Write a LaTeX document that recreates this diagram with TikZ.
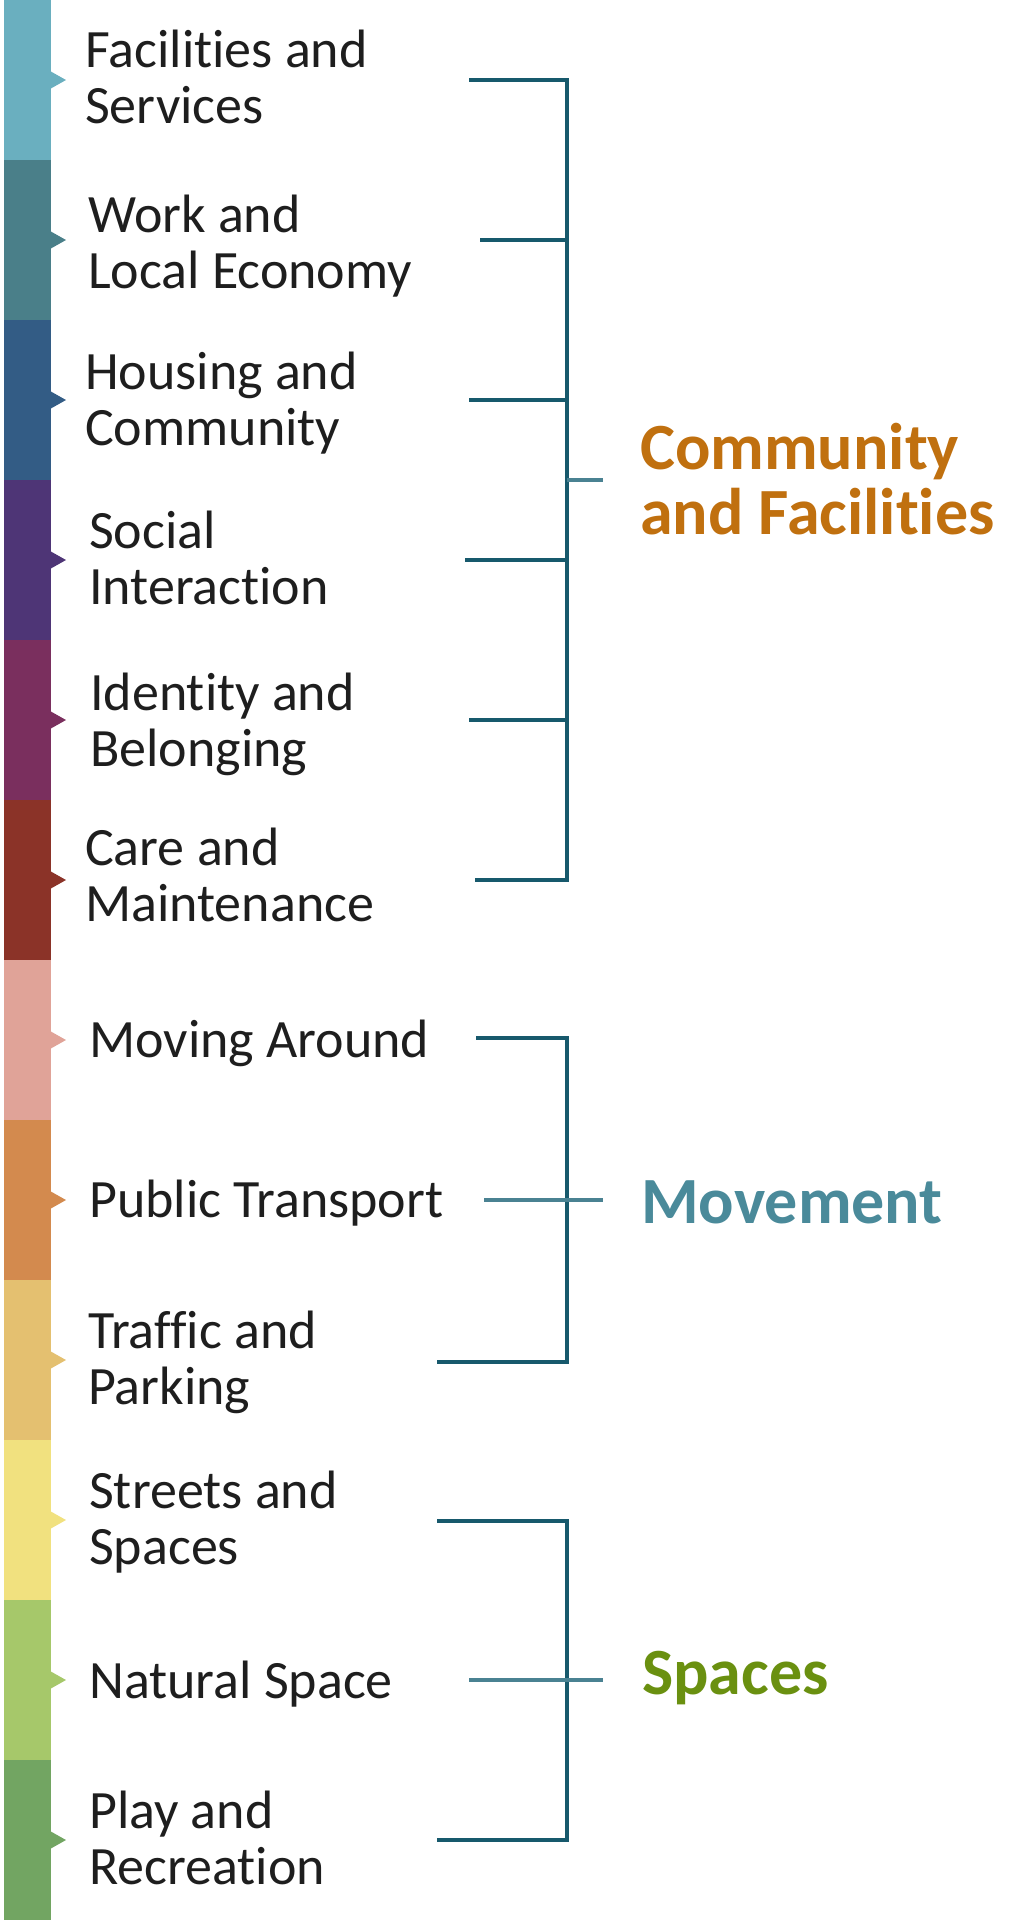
\documentclass[tikz,border=0pt]{standalone}
\usepackage{fontspec}
\setmainfont{Carlito}[RawFeature={-liga;-clig;-calt;-dlig}]
\definecolor{c1}{HTML}{6AAFBF}
\definecolor{c2}{HTML}{4A7F89}
\definecolor{c3}{HTML}{335C85}
\definecolor{c4}{HTML}{4E3576}
\definecolor{c5}{HTML}{7A2F5E}
\definecolor{c6}{HTML}{8B3328}
\definecolor{c7}{HTML}{E0A398}
\definecolor{c8}{HTML}{D38A4E}
\definecolor{c9}{HTML}{E4C070}
\definecolor{c10}{HTML}{F1E17F}
\definecolor{c11}{HTML}{A6C86A}
\definecolor{c12}{HTML}{72A562}
\definecolor{labelc}{HTML}{1E1E1E}
\definecolor{brkc}{HTML}{17596C}
\definecolor{stubc}{HTML}{4A8292}
\definecolor{headA}{HTML}{C0700F}
\definecolor{headB}{HTML}{4A8A9A}
\definecolor{headC}{HTML}{6A9010}
\newcommand{\twolines}[2]{\begin{tabular}[t]{@{}l@{}}#1\\#2\end{tabular}}
\newcommand{\nl}{\kern0pt }
\begin{document}
\begin{tikzpicture}[x=1pt,y=-1pt,
  lbl/.style={anchor=base west, inner sep=0pt, text=labelc,
    font=\fontsize{54}{56}\selectfont},
  head/.style={anchor=base west, inner sep=0pt,
    font=\bfseries\fontsize{66}{65}\selectfont},
  brk/.style={draw=brkc, line width=4.6pt, line join=miter},
  stub/.style={draw=stubc, line width=4.6pt}]
\useasboundingbox (0,0) rectangle (1015,1920);

% colour bar with pointers
\foreach \i/\c in {0/c1,1/c2,2/c3,3/c4,4/c5,5/c6,6/c7,7/c8,8/c9,9/c10,10/c11,11/c12}{
  \fill[\c] (4,{\i*160}) rectangle (51,{\i*160+160});
  \fill[\c] (50,{\i*160+71}) -- (66,{\i*160+80}) -- (50,{\i*160+89}) -- cycle;
}

% labels
\node[lbl] (l1) at (85,67)   {\twolines{Facilit\nl ies and}{Services}};
\node[lbl] (l2) at (88,232)  {\twolines{Work and}{Local Economy}};
\node[lbl] (l3) at (85,389)  {\twolines{Housing and}{Community}};
\node[lbl] (l4) at (89,548)  {\twolines{Social}{Interact\nl ion}};
\node[lbl] (l5) at (90,710)  {\twolines{Ident\nl ity and}{Belonging}};
\node[lbl] (l6) at (85,865)  {\twolines{Care and}{Maintenance}};
\node[lbl] (l7) at (89,1057) {Moving Around};
\node[lbl] (l8) at (89,1217) {Public Transport};
\node[lbl] (l9) at (88,1348) {\twolines{Traffic and}{Parking}};
\node[lbl] (l10) at (89,1508) {\twolines{Streets and}{Spaces}};
\node[lbl] (l11) at (89,1698) {Natural Space};
\node[lbl] (l12) at (89,1828) {\twolines{Play and}{Recreat\nl ion}};

% group headings
\node[head, text=headA] (hA) at (640,469)
  {\begin{tabular}[t]{@{}l@{}}Community\\and Facilit\nl ies\end{tabular}};
\node[head, text=headB] (hB) at (641,1223) {Movement};
\node[head, text=headC] (hC) at (642,1694) {Spaces};

% bracket coordinates
\coordinate (a1) at (469,80);
\coordinate (a2) at (480,240);
\coordinate (a3) at (469,400);
\coordinate (a4) at (465,560);
\coordinate (a5) at (469,720);
\coordinate (a6) at (475,880);
\coordinate (aV) at (567,0);
\coordinate (aM) at (567,480);
\coordinate (aS) at (603,480);

\coordinate (b1) at (476,1038);
\coordinate (b2) at (484,1200);
\coordinate (b3) at (437,1362);
\coordinate (bS) at (603,1200);

\coordinate (d1) at (437,1521);
\coordinate (d2) at (469,1680);
\coordinate (d3) at (437,1840);
\coordinate (dS) at (603,1680);

% Community and Facilities bracket
\draw[brk] (a1) -- (a1 -| aV) -- (a6 -| aV) -- (a6);
\draw[brk] (a2) -- (a2 -| aV);
\draw[brk] (a3) -- (a3 -| aV);
\draw[brk] (a4) -- (a4 -| aV);
\draw[brk] (a5) -- (a5 -| aV);
\draw[stub] (aM) -- (aS);

% Movement bracket
\draw[brk] (b1) -- (b1 -| aV) -- (b3 -| aV) -- (b3);
\draw[stub] (b2) -- (bS);

% Spaces bracket
\draw[brk] (d1) -- (d1 -| aV) -- (d3 -| aV) -- (d3);
\draw[stub] (d2) -- (dS);
\end{tikzpicture}
\end{document}
